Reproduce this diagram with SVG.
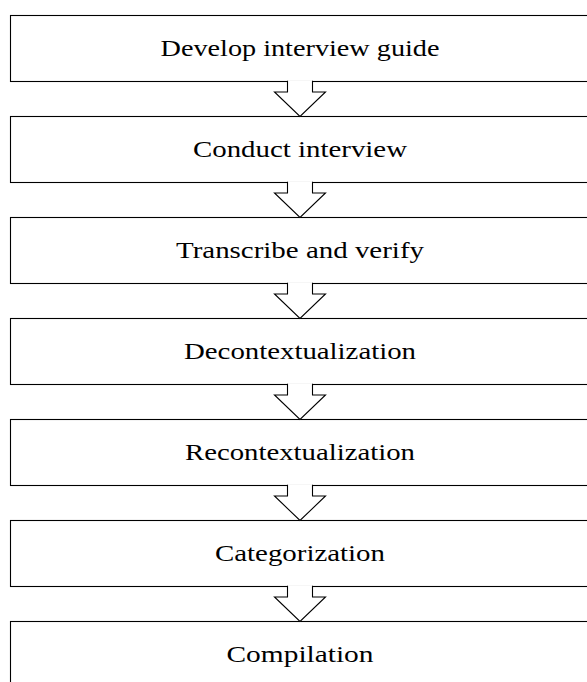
<svg xmlns="http://www.w3.org/2000/svg" width="587" height="682" viewBox="0 0 587 682">
<style>
.box{fill:#fff;stroke:#000;stroke-width:1.1}
.lbl{font-family:"Liberation Serif","Times New Roman",serif;font-size:24px;fill:#000;text-anchor:middle}
.arr{fill:#fff;stroke:#000;stroke-width:1.1;stroke-linejoin:miter}
</style>
<rect width="587" height="682" fill="#fff"/>
<g id="n1"><rect class="box" x="10.5" y="15.5" width="590" height="66"/><text class="lbl" x="300" y="56" textLength="279" lengthAdjust="spacingAndGlyphs">Develop interview guide</text></g>
<g id="n2"><rect class="box" x="10.5" y="116.5" width="590" height="66"/><text class="lbl" x="300" y="157" textLength="214" lengthAdjust="spacingAndGlyphs">Conduct interview</text></g>
<g id="n3"><rect class="box" x="10.5" y="217.5" width="590" height="66"/><text class="lbl" x="300" y="258" textLength="248" lengthAdjust="spacingAndGlyphs">Transcribe and verify</text></g>
<g id="n4"><rect class="box" x="10.5" y="318.5" width="590" height="66"/><text class="lbl" x="300" y="359" textLength="232" lengthAdjust="spacingAndGlyphs">Decontextualization</text></g>
<g id="n5"><rect class="box" x="10.5" y="419.5" width="590" height="66"/><text class="lbl" x="300" y="460" textLength="230" lengthAdjust="spacingAndGlyphs">Recontextualization</text></g>
<g id="n6"><rect class="box" x="10.5" y="520.5" width="590" height="66"/><text class="lbl" x="300" y="561" textLength="170" lengthAdjust="spacingAndGlyphs">Categorization</text></g>
<g id="n7"><rect class="box" x="10.5" y="621.5" width="590" height="66"/><text class="lbl" x="300" y="662" textLength="147" lengthAdjust="spacingAndGlyphs">Compilation</text></g>
<g id="connectors">
<polyline class="arr" points="287.5,80.8 287.5,92 274.5,92 300,116.5 325.5,92 312.5,92 312.5,80.8"/>
<polyline class="arr" points="287.5,181.8 287.5,193 274.5,193 300,217.5 325.5,193 312.5,193 312.5,181.8"/>
<polyline class="arr" points="287.5,282.8 287.5,294 274.5,294 300,318.5 325.5,294 312.5,294 312.5,282.8"/>
<polyline class="arr" points="287.5,383.8 287.5,395 274.5,395 300,419.5 325.5,395 312.5,395 312.5,383.8"/>
<polyline class="arr" points="287.5,484.8 287.5,496 274.5,496 300,520.5 325.5,496 312.5,496 312.5,484.8"/>
<polyline class="arr" points="287.5,585.8 287.5,597 274.5,597 300,621.5 325.5,597 312.5,597 312.5,585.8"/>
</g>
</svg>
